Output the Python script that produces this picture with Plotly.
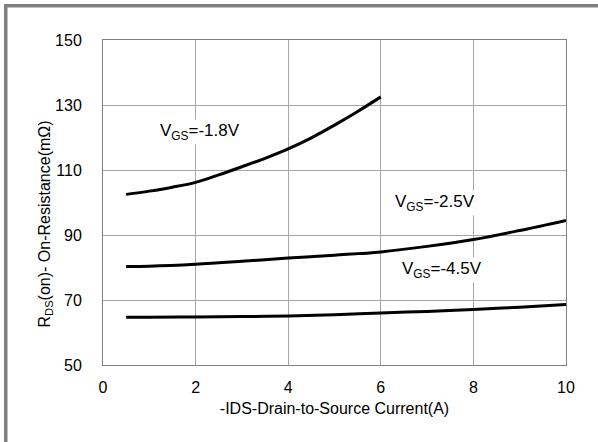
import plotly.graph_objects as go

# Data
x_18 = [0.5, 1.0, 1.5, 2.0, 2.5, 3.0, 3.5, 4.0, 4.5, 5.0, 5.5, 6.0]
r_18 = [102.5, 103.5, 104.7, 106.2, 108.5, 111.0, 113.6, 116.5, 119.9, 123.8, 128.0, 132.5]

x_25 = [0.5, 1.0, 2.0, 3.0, 4.0, 5.0, 6.0, 7.0, 8.0, 9.0, 10.0]
r_25 = [80.3, 80.4, 81.0, 81.9, 82.9, 83.8, 84.8, 86.5, 88.6, 91.4, 94.5]

x_45 = [0.5, 1.0, 2.0, 3.0, 4.0, 5.0, 6.0, 7.0, 8.0, 9.0, 10.0]
r_45 = [64.7, 64.7, 64.8, 64.9, 65.1, 65.5, 66.0, 66.5, 67.1, 67.8, 68.6]

x_ticks = [0, 2, 4, 6, 8, 10]
y_ticks = [50, 70, 90, 110, 130, 150]

labels = ["V<sub>GS</sub>=-1.8V", "V<sub>GS</sub>=-2.5V", "V<sub>GS</sub>=-4.5V"]
label_x = [2.1, 7.18, 7.32]
label_y = [121.7, 99.7, 79.2]

FONT = "Liberation Sans, Arial, sans-serif"

fig = go.Figure()
for xs, ys in [(x_18, r_18), (x_25, r_25), (x_45, r_45)]:
    fig.add_trace(go.Scatter(x=xs, y=ys, mode="lines",
                             line=dict(color="black", width=3, shape="spline"),
                             showlegend=False, hoverinfo="skip"))

for t, ax_, ay_ in zip(labels, label_x, label_y):
    fig.add_annotation(x=ax_, y=ay_, text=t, showarrow=False,
                       font=dict(family=FONT, size=17, color="#000"),
                       bgcolor="white", borderpad=1)

# y-axis title as annotation for position control
fig.add_annotation(xref="paper", yref="paper", x=(33 - 103) / 463, y=(365 - 224) / 325,
                   text="R<sub>DS</sub>(on)- On-Resistance(mΩ)", textangle=-90,
                   showarrow=False, font=dict(family=FONT, size=16, color="#000"))

# gray frame border (top and left)
fig.add_shape(type="rect", xref="paper", yref="paper",
              x0=(4 - 103) / 463, x1=(598 - 103) / 463,
              y0=(365 - 7.5) / 325, y1=(365 - 4) / 325,
              fillcolor="#808080", line=dict(width=0), layer="above")
fig.add_shape(type="rect", xref="paper", yref="paper",
              x0=(4 - 103) / 463, x1=(7.5 - 103) / 463,
              y0=(365 - 442) / 325, y1=(365 - 4) / 325,
              fillcolor="#808080", line=dict(width=0), layer="above")

fig.update_xaxes(range=[0, 10], tickvals=x_ticks, ticktext=[str(v) for v in x_ticks],
                 showgrid=True, gridcolor="#a6a6a6", gridwidth=1,
                 showline=True, linecolor="#808080", linewidth=1, mirror=True,
                 zeroline=False, ticks="", ticklabelstandoff=8,
                 tickfont=dict(family=FONT, size=16, color="#000"),
                 title=dict(text="-IDS-Drain-to-Source Current(A)",
                            font=dict(family=FONT, size=16, color="#000"), standoff=7))
fig.update_yaxes(range=[50, 150], tickvals=y_ticks, ticktext=[str(v) for v in y_ticks],
                 showgrid=True, gridcolor="#a6a6a6", gridwidth=1,
                 showline=True, linecolor="#808080", linewidth=1, mirror=True,
                 zeroline=False, ticks="", ticklabelstandoff=17,
                 tickfont=dict(family=FONT, size=16, color="#000"))

fig.update_layout(width=598, height=442,
                  margin=dict(l=103, r=32, t=40, b=77),
                  paper_bgcolor="white", plot_bgcolor="white",
                  font=dict(family=FONT))

fig.write_html("out.html", config={"displayModeBar": False},
               post_script="document.body.style.margin='0';document.body.style.overflow='hidden';")
